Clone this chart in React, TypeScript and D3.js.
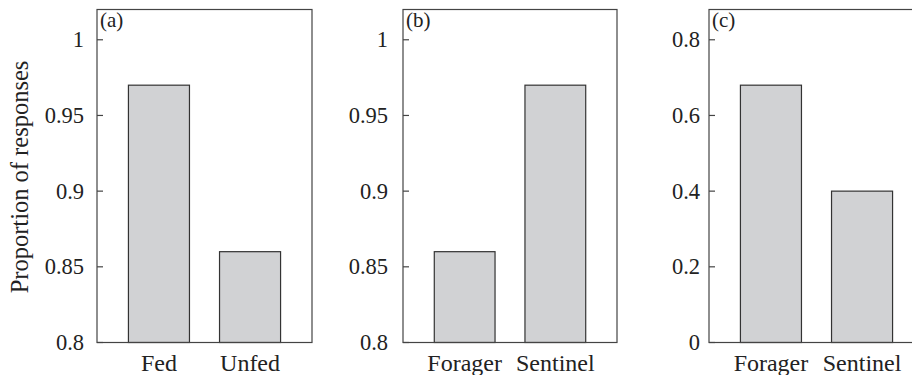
import React from "react";
import * as d3 from "d3";

const panelLabels = ["(a)", "(b)", "(c)"];
const categoriesA = ["Fed", "Unfed"];
const valuesA = [0.97, 0.86];
const categoriesB = ["Forager", "Sentinel"];
const valuesB = [0.86, 0.97];
const categoriesC = ["Forager", "Sentinel"];
const valuesC = [0.68, 0.4];
const ticksA = [0.8, 0.85, 0.9, 0.95, 1];
const ticksB = [0.8, 0.85, 0.9, 0.95, 1];
const ticksC = [0, 0.2, 0.4, 0.6, 0.8];
const yTitle = "Proportion of responses";

const W = 912;
const H = 375;
const TOP = 9.5;
const BOTTOM = 342.5;
const FONT = "'Liberation Serif', 'Times New Roman', serif";

type PanelProps = {
  x0: number;
  x1: number;
  label: string;
  cats: string[];
  vals: number[];
  ticks: number[];
  domain: [number, number];
  tickGap: number;
};

function Panel({ x0, x1, label, cats, vals, ticks, domain, tickGap }: PanelProps) {
  const x = d3.scaleBand<string>().domain(cats).range([x0, x1]).paddingInner(0.33).paddingOuter(0.345);
  const y = d3.scaleLinear().domain(domain).range([BOTTOM, TOP]);
  const fmt = (v: number) => String(v);
  return (
    <g>
      {cats.map((c, i) => (
        <rect
          key={c}
          x={x(c)}
          y={y(vals[i])}
          width={x.bandwidth()}
          height={y(domain[0]) - y(vals[i])}
          fill="#d1d2d4"
          stroke="#333"
          strokeWidth={1.2}
        />
      ))}
      <rect x={x0} y={TOP} width={x1 - x0} height={BOTTOM - TOP} fill="none" stroke="#444" strokeWidth={1.2} />
      {ticks.map((t) => (
        <g key={t}>
          <line x1={x0} x2={x0 + 6} y1={y(t)} y2={y(t)} stroke="#444" strokeWidth={1.2} />
          <text
            x={x0 - tickGap}
            y={y(t)}
            dy="0.34em"
            textAnchor="end"
            fontFamily={FONT}
            fontSize={22.5}
            fill="#222"
          >
            {fmt(t)}
          </text>
        </g>
      ))}
      {cats.map((c) => (
        <text
          key={"l" + c}
          x={(x(c) as number) + x.bandwidth() / 2}
          y={371}
          textAnchor="middle"
          fontFamily={FONT}
          fontSize={24}
          fill="#222"
        >
          {c}
        </text>
      ))}
      <text x={x0 + 3} y={27} fontFamily={FONT} fontSize={21} fill="#222">
        {label}
      </text>
    </g>
  );
}

export default function App() {
  return (
    <svg
      width={W}
      height={H}
      viewBox={`0 0 ${W} ${H}`}
      style={{ position: "absolute", left: 0, top: 0, background: "#fff" }}
    >
      <rect width={W} height={H} fill="#fff" />
      <text
        transform={`translate(28,177) rotate(-90)`}
        textAnchor="middle"
        fontFamily={FONT}
        fontSize={24.5}
        fill="#222"
      >
        {yTitle}
      </text>
      <Panel x0={97} x1={312} label={panelLabels[0]} cats={categoriesA} vals={valuesA} ticks={ticksA} domain={[0.8, 1.02]} tickGap={13} />
      <Panel x0={403} x1={617} label={panelLabels[1]} cats={categoriesB} vals={valuesB} ticks={ticksB} domain={[0.8, 1.02]} tickGap={15} />
      <Panel x0={709} x1={924} label={panelLabels[2]} cats={categoriesC} vals={valuesC} ticks={ticksC} domain={[0, 0.88]} tickGap={9} />
    </svg>
  );
}
